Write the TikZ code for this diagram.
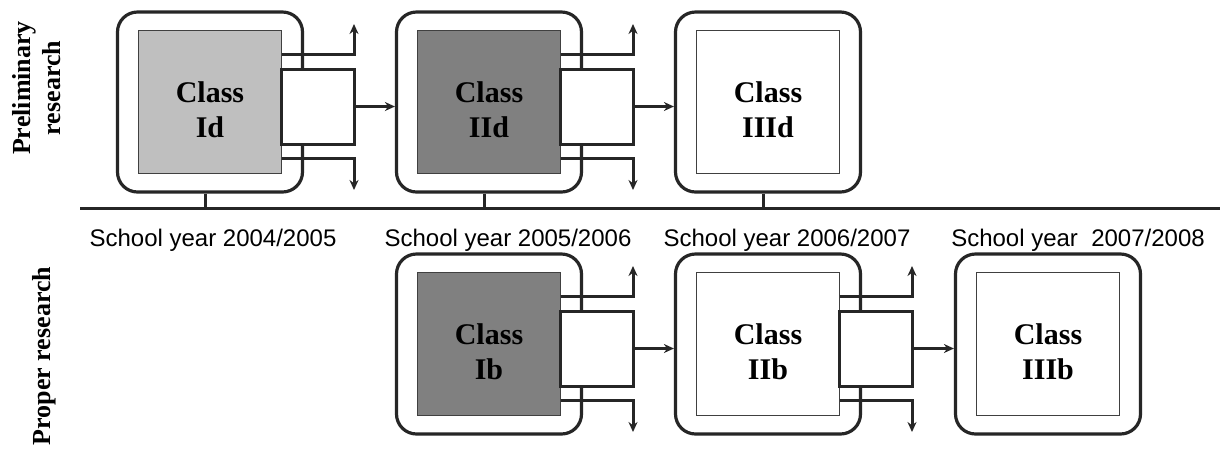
\documentclass[tikz,border=0pt]{standalone}
\usepackage{fontspec}
\setmainfont{Liberation Serif}
\newfontfamily\yearfont{Liberation Sans}
\usetikzlibrary{arrows.meta}
\newcommand\classunit[5]{% name, cx, cy, fill, text
  \node[outerbox] (#1o) at (#2,#3) {};
  \node[innerbox, fill=#4] (#1) at (#2,#3) {};
  \node[classlabel] (#1t) at (#2,#3+8) {#5};
}
\newcommand\classconn[3]{% name, cx, cy
  \coordinate (#1ua) at (#2+71.5,#3-48);
  \coordinate (#1ub) at (#2+144,#3-48);
  \coordinate (#1ut) at (#2+144,#3-78);
  \coordinate (#1da) at (#2+71.5,#3+56);
  \coordinate (#1db) at (#2+144,#3+56);
  \coordinate (#1dt) at (#2+144,#3+88);
  \draw[conn,tip] (#1ua) -- (#1ub) -- (#1ut);
  \draw[conn,tip] (#1da) -- (#1db) -- (#1dt);
  \node[connbox] (#1r) at (#2+107.75,#3+4.5) {};
}
\begin{document}
\begin{tikzpicture}[x=0.5pt,y=-0.5pt,
  outerbox/.style={draw=black!85, line width=1.6pt, rounded corners=10pt, minimum width=92.5pt, minimum height=90pt, inner sep=0pt, fill=white},
  innerbox/.style={draw=black!75, line width=0.8pt, minimum width=71.5pt, minimum height=71.5pt, inner sep=0pt},
  conn/.style={draw=black!85, line width=1.5pt},
  connbox/.style={draw=black!85, line width=1.5pt, fill=white, minimum width=36.25pt, minimum height=37.5pt, inner sep=0pt},
  tip/.style={-{Stealth[length=5pt,width=4.5pt]}},
  classlabel/.style={font=\fontsize{15}{17.5}\selectfont\bfseries, align=center, inner sep=0pt},
  yearlabel/.style={font=\yearfont\fontsize{12}{14}\selectfont, anchor=base},
  sidelabel/.style={font=\fontsize{13}{15}\selectfont\bfseries, align=center, rotate=90, inner sep=0pt},
]
\fill[white] (0,0) rectangle (1220,452);
\useasboundingbox (0,0) rectangle (1220,452);

% timeline
\coordinate (tl) at (80,208);
\coordinate (tr) at (1220,208);
\draw[conn] (tl) -- (tr);

% top row
\classunit{Id}{210}{102}{black!25}{Class\\Id}
\classconn{Id}{210}{102}
\classunit{IId}{489}{102}{black!50}{Class\\IId}
\classconn{IId}{489}{102}
\classunit{IIId}{768}{102}{white}{Class\\IIId}

% bottom row
\classunit{Ib}{489}{344}{black!50}{Class\\Ib}
\classconn{Ib}{489}{344}
\classunit{IIb}{768}{344}{white}{Class\\IIb}
\classconn{IIb}{768}{344}
\classunit{IIIb}{1048}{344}{white}{Class\\IIIb}

% arrows between classes
\draw[conn,tip] (Idr.east) -- (Idr.east -| IIdo.west);
\draw[conn,tip] (IIdr.east) -- (IIdr.east -| IIIdo.west);
\draw[conn,tip] (Ibr.east) -- (Ibr.east -| IIbo.west);
\draw[conn,tip] (IIbr.east) -- (IIbr.east -| IIIbo.west);

% ticks to the timeline
\draw[conn] ([xshift=-2.5pt]Ido.south) -- ([xshift=-2.5pt]Ido.south |- tl);
\draw[conn] ([xshift=-2.5pt]IIdo.south) -- ([xshift=-2.5pt]IIdo.south |- tl);
\draw[conn] ([xshift=-2.5pt]IIIdo.south) -- ([xshift=-2.5pt]IIIdo.south |- tl);

% year labels
\node[yearlabel] (y1) at (213,246) {School year 2004/2005};
\node[yearlabel] (y2) at (508,246) {School year 2005/2006};
\node[yearlabel] (y3) at (787,246) {School year 2006/2007};
\node[yearlabel] (y4) at (1078,246) {School year~ 2007/2008};

% side labels
\node[sidelabel] (pre) at (37,88) {Preliminary\\research};
\node[sidelabel] (pro) at (44,356) {Proper research};
\end{tikzpicture}
\end{document}
